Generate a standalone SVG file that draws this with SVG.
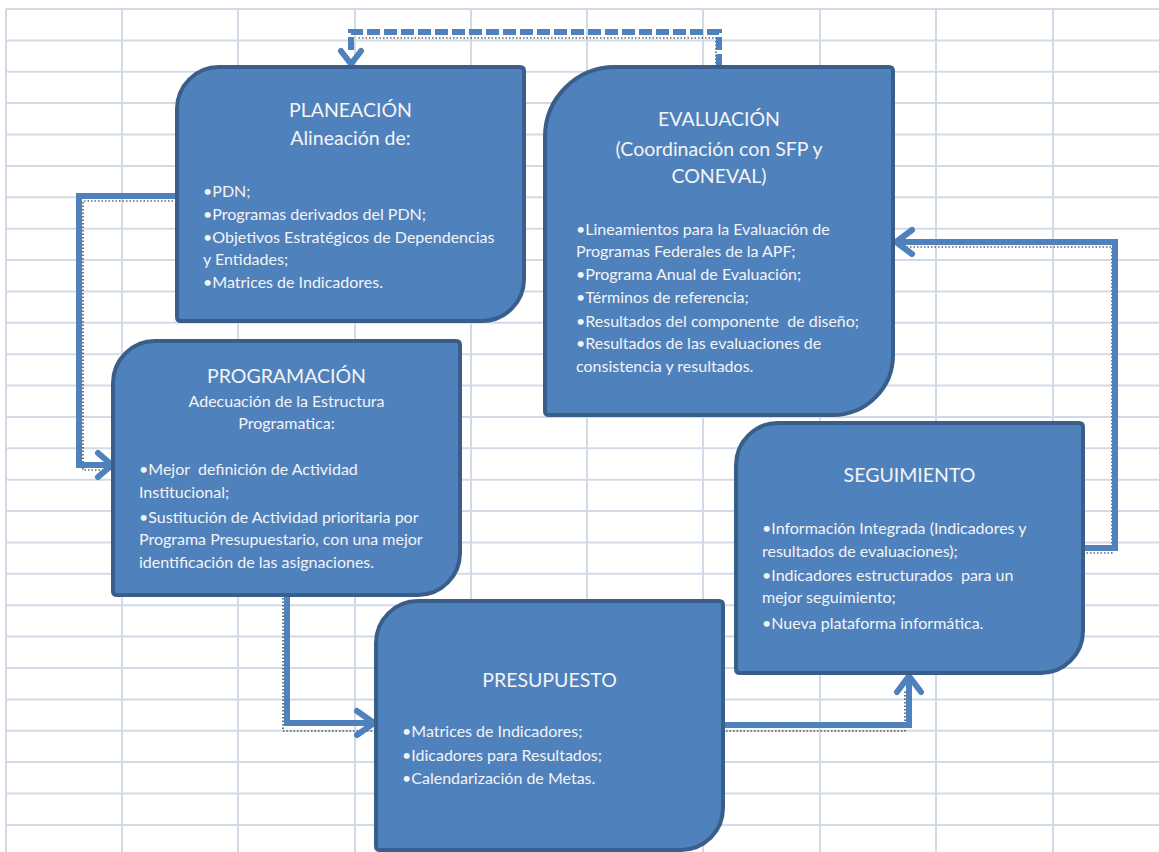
<svg xmlns="http://www.w3.org/2000/svg" width="1159" height="852" viewBox="0 0 1159 852">
<style>
.grid{stroke:#d3dae7;stroke-width:2;fill:none}
.box{fill:#4f81bd;stroke:#3a5e8a;stroke-width:4}
.t{font-family:Lato,"Open Sans",sans-serif;fill:#f4f4f4}
.ti{font-size:19.5px;text-anchor:middle}
.su{font-size:16px;text-anchor:middle}
.b{font-size:16px}
.con{fill:none;stroke:#4f81bd;stroke-width:6;stroke-linejoin:miter}
.hd{fill:none;stroke:#4f81bd;stroke-width:6;stroke-linecap:round;stroke-linejoin:round}
.dot{fill:none;stroke:#1a1a1a;stroke-width:1.2;stroke-dasharray:1.5 2}
</style>
<rect width="1159" height="852" fill="#ffffff"/>
<g id="grid" class="grid">
<path d="M6,9V852M122,9V852M238,9V852M355,9V852M471,9V852M587,9V852M703,9V852M820,9V852M936,9V852M1053,9V852"/>
<path d="M6,9H1159M6,40.4H1159M6,71.8H1159M6,103.1H1159M6,134.5H1159M6,165.9H1159M6,197.3H1159M6,228.7H1159M6,260H1159M6,291.4H1159M6,322.8H1159M6,354.2H1159M6,385.6H1159M6,416.9H1159M6,448.3H1159M6,479.7H1159M6,511.1H1159M6,542.5H1159M6,573.8H1159M6,605.2H1159M6,636.6H1159M6,668H1159M6,699.4H1159M6,730.7H1159M6,762.1H1159M6,793.5H1159M6,824.9H1159"/>
</g>
<g id="connectors">
<path class="dot" d="M180,201H83V470H110"/>
<path class="con" d="M177,196H79V465H110"/>
<path class="hd" d="M98,453L112,465L98,477"/>
<path class="dot" d="M283,598V731H372"/>
<path class="con" d="M287,595V723H373"/>
<path class="hd" d="M357,711L374,723L357,735"/>
<path class="dot" d="M726,731H905V690"/>
<path class="con" d="M723,725H909V676"/>
<path class="hd" d="M897,692L909,676L921,692"/>
<path class="dot" d="M1083,553H1112V247H898"/>
<path class="con" d="M1083,548H1115V242H897"/>
<path class="hd" d="M912,230L896,242L912,254"/>
<path class="dot" d="M716,67V38H357"/>
<path class="con" d="M719,67V32H351V50" stroke-dasharray="13 4"/>
<path class="hd" d="M341,51L351,64L361,51"/>
</g>
<g id="planeacion">
<path class="box" d="M177,109A42,42 0 0 1 219,67H520Q524,67 524,71V279A42,42 0 0 1 482,321H181Q177,321 177,317Z"/>
<text class="t ti" x="350.5" y="117">PLANEACIÓN</text>
<text class="t ti" x="350.5" y="145">Alineación de:</text>
<text class="t b" x="203" y="197">•PDN;</text>
<text class="t b" x="203" y="220">•Programas derivados del PDN;</text>
<text class="t b" x="203" y="243">•Objetivos Estratégicos de Dependencias</text>
<text class="t b" x="203" y="265">y Entidades;</text>
<text class="t b" x="203" y="288">•Matrices de Indicadores.</text>
</g>
<g id="evaluacion">
<path class="box" d="M545,137A70,70 0 0 1 615,67H889Q893,67 893,71V355A60,60 0 0 1 833,415H549Q545,415 545,411Z"/>
<text class="t ti" x="719" y="126">EVALUACIÓN</text>
<text class="t ti" x="719" y="156">(Coordinación con SFP y</text>
<text class="t ti" x="719" y="183">CONEVAL)</text>
<text class="t b" x="576" y="235">•Lineamientos para la Evaluación de</text>
<text class="t b" x="576" y="257">Programas Federales de la APF;</text>
<text class="t b" x="576" y="280">•Programa Anual de Evaluación;</text>
<text class="t b" x="576" y="303">•Términos de referencia;</text>
<text class="t b" x="576" y="327" xml:space="preserve">•Resultados del componente  de diseño;</text>
<text class="t b" x="576" y="349">•Resultados de las evaluaciones de</text>
<text class="t b" x="576" y="372">consistencia y resultados.</text>
</g>
<g id="programacion">
<path class="box" d="M113,383A42,42 0 0 1 155,341H456Q460,341 460,345V553A42,42 0 0 1 418,595H117Q113,595 113,591Z"/>
<text class="t ti" x="286.5" y="383">PROGRAMACIÓN</text>
<text class="t su" x="286.5" y="407">Adecuación de la Estructura</text>
<text class="t su" x="286.5" y="429">Programatica:</text>
<text class="t b" x="139" y="475" xml:space="preserve">•Mejor  definición de Actividad</text>
<text class="t b" x="139" y="498">Institucional;</text>
<text class="t b" x="139" y="523">•Sustitución de Actividad prioritaria por</text>
<text class="t b" x="139" y="545">Programa Presupuestario, con una mejor</text>
<text class="t b" x="139" y="568">identificación de las asignaciones.</text>
</g>
<g id="seguimiento">
<path class="box" d="M736,465A42,42 0 0 1 778,423H1079Q1083,423 1083,427V631A42,42 0 0 1 1041,673H740Q736,673 736,669Z"/>
<text class="t ti" x="909.5" y="482">SEGUIMIENTO</text>
<text class="t b" x="762" y="534">•Información Integrada (Indicadores y</text>
<text class="t b" x="762" y="557">resultados de evaluaciones);</text>
<text class="t b" x="762" y="581" xml:space="preserve">•Indicadores estructurados  para un</text>
<text class="t b" x="762" y="603">mejor seguimiento;</text>
<text class="t b" x="762" y="629">•Nueva plataforma informática.</text>
</g>
<g id="presupuesto">
<path class="box" d="M376,643A42,42 0 0 1 418,601H719Q723,601 723,605V808A42,42 0 0 1 681,850H380Q376,850 376,846Z"/>
<text class="t ti" x="549.5" y="687">PRESUPUESTO</text>
<text class="t b" x="402" y="737">•Matrices de Indicadores;</text>
<text class="t b" x="402" y="761">•Idicadores para Resultados;</text>
<text class="t b" x="402" y="784">•Calendarización de Metas.</text>
</g>
</svg>
